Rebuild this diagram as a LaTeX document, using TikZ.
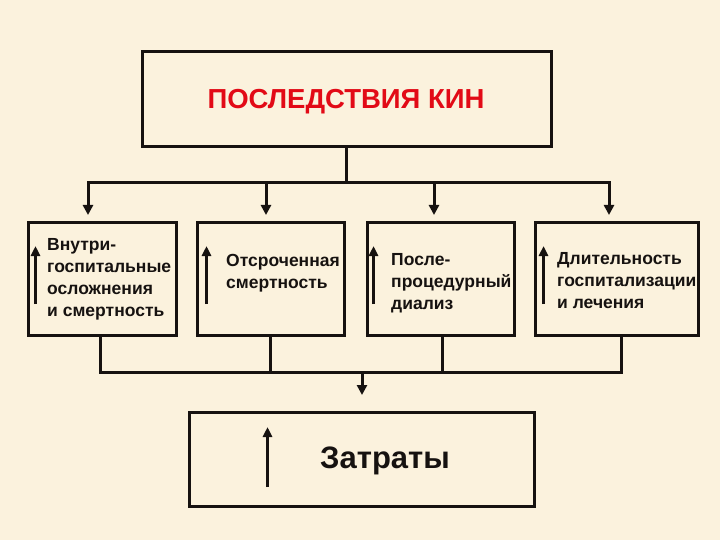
\documentclass[tikz,border=0pt]{standalone}
\usepackage{fontspec}
\setmainfont{Liberation Sans}
\usepackage{xcolor}
\usetikzlibrary{positioning,arrows.meta,calc}
\definecolor{bgpaper}{RGB}{251,242,221}
\definecolor{titlered}{RGB}{226,10,22}
\definecolor{inkdark}{RGB}{22,18,16}

\begin{document}
\begin{tikzpicture}[
    x=1pt, y=-1pt,
    font=\bfseries\fontsize{17.5}{22}\selectfont,
    box/.style  = {draw=inkdark, line width=3pt, inner sep=0pt},
    ln/.style   = {draw=inkdark, line width=3pt},
    ar/.style   = {ln, -{Triangle[length=10pt,width=10pt]}},
    up/.style   = {ln, line width=3.5pt, -{Triangle[length=10pt,width=9pt]}},
    lbl/.style  = {text=inkdark, align=left, anchor=west, inner sep=0pt},
]
\useasboundingbox[fill=bgpaper] (0,0) rectangle (720,540);

%--- top box
\node[box, minimum width=409pt, minimum height=95pt] (top) at (346.5,99.5) {};
\node[text=titlered, font=\bfseries\fontsize{27.5}{30}\selectfont] (ttl) at (346,102)
      {ПОСЛЕДСТВИЯ КИН};

%--- four consequence boxes
\node[box, minimum width=148pt, minimum height=112pt] (b1) at (102,279)   {};
\node[box, minimum width=147pt, minimum height=112pt] (b2) at (270.5,279) {};
\node[box, minimum width=147pt, minimum height=112pt] (b3) at (440.5,279) {};
\node[box, minimum width=163pt, minimum height=112pt] (b4) at (616.5,279) {};

\node[lbl] (t1) at (47,279)  {Внутри-\\госпитальные\\осложнения\\и смертность};
\node[lbl] (t2) at (226,273) {Отсроченная\\смертность};
\node[lbl] (t3) at (391,283) {После-\\процедурный\\диализ};
\node[lbl] (t4) at (557,281) {Длительность\\госпитализации\\и лечения};

%--- cost box
\node[box, minimum width=345pt, minimum height=94pt] (cost) at (361.5,459) {};
\node[lbl, font=\bfseries\fontsize{31}{33}\selectfont] (tc) at (320,461) {Затраты};

%--- upward arrows inside boxes
\draw[up] ($(b1.west)+(9,25)$)  -- ($(b1.west)+(9,-33)$);
\draw[up] ($(b2.west)+(11,25)$) -- ($(b2.west)+(11,-33)$);
\draw[up] ($(b3.west)+(8,25)$)  -- ($(b3.west)+(8,-33)$);
\draw[up] ($(b4.west)+(10,25)$) -- ($(b4.west)+(10,-33)$);
\draw[up] ($(cost.west)+(80,28)$) -- ($(cost.west)+(80,-32)$);

%--- top distribution bus
\coordinate (bus) at (346.5,183);
\coordinate (d1) at (88,215);
\coordinate (d2) at (266,215);
\coordinate (d3) at (434,215);
\coordinate (d4) at (609,215);
\draw[ln] (top.south) -- (bus);
\draw[ar] (bus) -| (d1);
\draw[ar] (bus) -| (d2);
\draw[ar] (bus) -| (d3);
\draw[ar] (bus) -| (d4);

%--- bottom collecting bus
\coordinate (join) at (362,372);
\coordinate (dc) at (362,395);
\draw[ln] ([xshift=-2pt]b1.south) |- (join);
\draw[ln] (b2.south) |- (join);
\draw[ln] ([xshift=2pt]b3.south) |- (join);
\draw[ln] ([xshift=5pt]b4.south) |- (join);
\draw[ar] (join) -- (dc);

\end{tikzpicture}
\end{document}
